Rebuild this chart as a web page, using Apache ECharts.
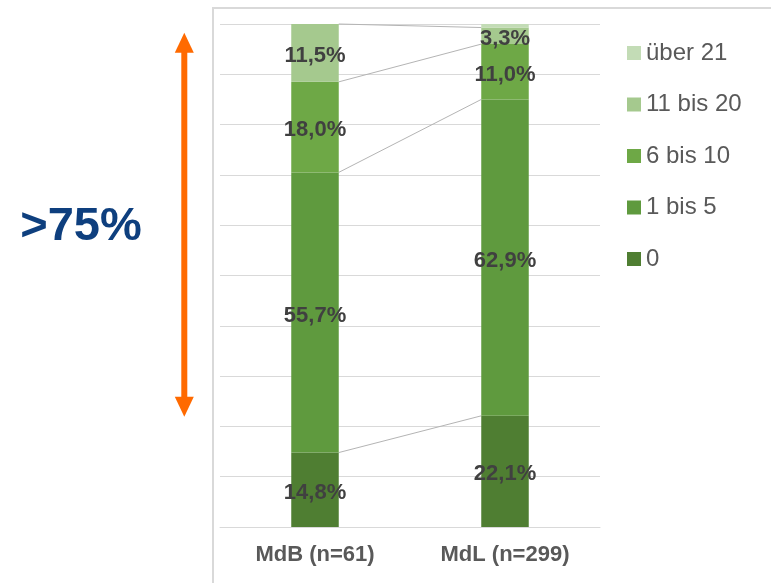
<!DOCTYPE html>
<html><head><meta charset="utf-8">
<script src="https://cdn.jsdelivr.net/npm/echarts@6/dist/echarts.min.js"></script>
<style>html,body{margin:0;padding:0;background:#fff}#c{width:771px;height:583px}</style>
</head><body><div id="c"></div>
<script>
const categories = ['MdB (n=61)', 'MdL (n=299)'];
const seriesNames = ['0', '1 bis 5', '6 bis 10', '11 bis 20', 'über 21'];
const v0 = [14.8, 22.1];
const v1to5 = [55.7, 62.9];
const v6to10 = [18.0, 11.0];
const v11to20 = [11.5, 3.3];
const vOver21 = [0, 0.7];
const seriesValues = [v0, v1to5, v6to10, v11to20, vOver21];
const colors = ['#4f7e32', '#5f9a3e', '#6ea846', '#a5c98e', '#c3dcb6'];
const yTicks = [0, 10, 20, 30, 40, 50, 60, 70, 80, 90, 100];

const chart = echarts.init(document.getElementById('c'));
const fmt = v => v.toFixed(1).replace('.', ',') + '%';
const BAR_FRAC = 0.25;

const series = seriesNames.map((name, i) => ({
  name, type: 'bar', stack: 'total', barWidth: '25%',
  data: seriesValues[i],
  itemStyle: { color: colors[i] },
  label: {
    show: i < 4, position: 'inside', offset: [0, 3],
    formatter: p => fmt(p.value),
    color: '#404040', fontSize: 22, fontWeight: 'bold',
    fontFamily: 'Liberation Sans, Arial, sans-serif'
  },
  z: 2
}));

// connector lines between the tops of each stacked segment
series.push({
  type: 'custom', name: 'connectors', silent: true, z: 1,
  data: [0],
  renderItem: (params, api) => {
    const band = api.size([1, 0])[0];
    const half = band * BAR_FRAC / 2;
    const children = [];
    for (let s = 0; s < seriesValues.length - 1; s++) {
      let c0 = 0, c1 = 0;
      for (let k = 0; k <= s; k++) { c0 += seriesValues[k][0]; c1 += seriesValues[k][1]; }
      const p0 = api.coord([0, c0]);
      const p1 = api.coord([1, c1]);
      children.push({
        type: 'line',
        shape: { x1: p0[0] + half, y1: p0[1], x2: p1[0] - half, y2: p1[1] },
        style: { stroke: '#b4b4b4', lineWidth: 1 }
      });
    }
    return { type: 'group', children };
  }
});

chart.setOption({
  animation: false,
  backgroundColor: '#fff',
  grid: { left: 220, right: 171, top: 24, bottom: 56 },
  xAxis: {
    type: 'category', data: categories,
    axisLine: { lineStyle: { color: '#d9d9d9', width: 1 } },
    axisTick: { show: false },
    axisLabel: { color: '#595959', fontSize: 22, fontWeight: 'bold', margin: 17,
      fontFamily: 'Liberation Sans, Arial, sans-serif' }
  },
  yAxis: {
    type: 'value', min: yTicks[0], max: yTicks[yTicks.length - 1], interval: 10,
    axisLabel: { show: false }, axisLine: { show: false }, axisTick: { show: false },
    splitLine: { lineStyle: { color: '#d9d9d9', width: 1 } }
  },
  legend: {
    orient: 'vertical', left: 622, top: 36,
    data: seriesNames.slice().reverse(),
    icon: 'rect', itemWidth: 14, itemHeight: 14, itemGap: 27.5,
    textStyle: { color: '#595959', fontSize: 24, lineHeight: 24,
      fontFamily: 'Liberation Sans, Arial, sans-serif' }
  },
  graphic: [
    { type: 'polyline', shape: { points: [[213, 583], [213, 8], [771, 8]] },
      style: { stroke: '#d9d9d9', lineWidth: 2, fill: null }, z: -1 },
    { type: 'rect', shape: { x: 181.3, y: 50, width: 6, height: 348 },
      style: { fill: '#ff6a00' } },
    { type: 'polygon', shape: { points: [[184.3, 32.7], [174.8, 52.7], [193.8, 52.7]] },
      style: { fill: '#ff6a00' } },
    { type: 'polygon', shape: { points: [[184.3, 416.7], [174.8, 396.7], [193.8, 396.7]] },
      style: { fill: '#ff6a00' } },
    { type: 'text', x: 81, y: 227,
      style: { text: '>75%', fill: '#0e3f7e', font: 'bold 47px "Liberation Sans", Arial, sans-serif',
        align: 'center', verticalAlign: 'middle' } }
  ],
  series
});
</script></body></html>
